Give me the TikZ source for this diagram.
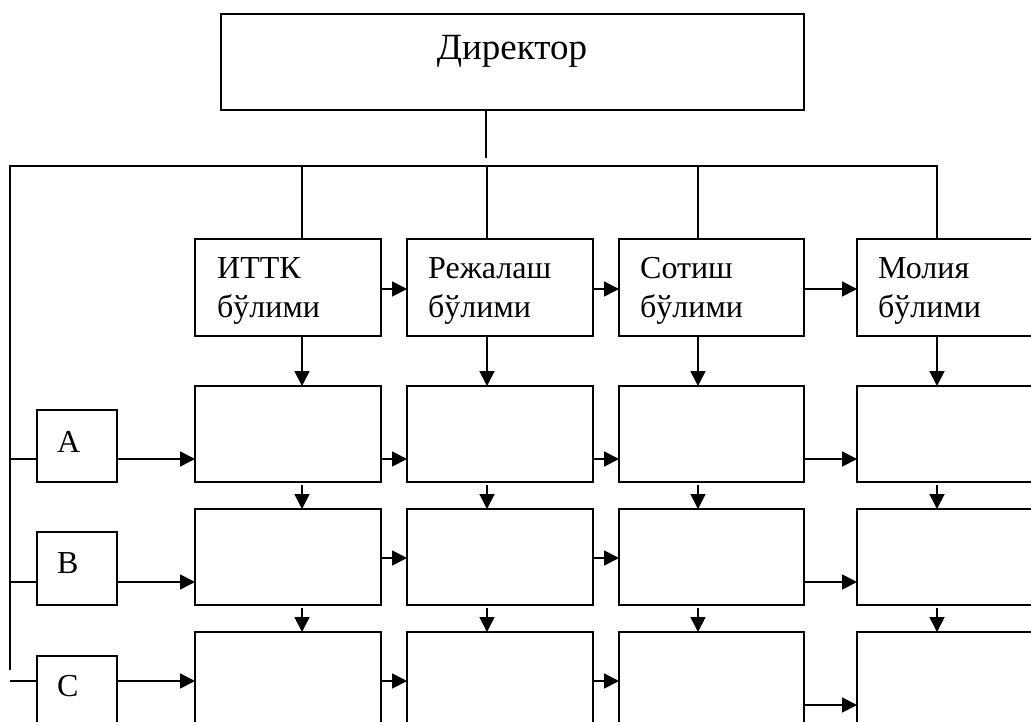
\documentclass[tikz,border=0pt]{standalone}
\usepackage{fontspec}
\setmainfont{Liberation Serif}
\usetikzlibrary{arrows.meta}
\tikzset{
  box/.style={draw, line width=1.6pt, inner sep=0pt, outer sep=0pt, rectangle},
  dept/.style={box, minimum height=97pt},
  cell/.style={box, minimum height=96pt},
  small/.style={box, minimum width=80pt},
  lbl/.style={inner sep=0pt, font=\fontsize{32}{38}\selectfont},
  big/.style={inner sep=0pt, font=\fontsize{37}{44}\selectfont},
  conn/.style={line width=1.6pt},
  bus/.style={line width=1.4pt},
  arr/.style={line width=1.8pt, -{Triangle[length=15pt,width=15pt]}}
}
\begin{document}
\begin{tikzpicture}[x=1pt, y=-1pt]
\useasboundingbox (0,0) rectangle (1031,722);
\clip (0,0) rectangle (1031,722);
% levels
\coordinate (x1) at (302,0);
\coordinate (x2) at (487,0);
\coordinate (x3) at (698,0);
\coordinate (x4) at (937,0);
\coordinate (yd) at (0,289);
\coordinate (y1) at (0,459);
\coordinate (y2a) at (0,558);
\coordinate (y2b) at (0,582);
\coordinate (y3a) at (0,681);
\coordinate (y3b) at (0,705);
\coordinate (busL) at (10,166);
\coordinate (busR) at (937,166);
\coordinate (busB) at (10,670);
\coordinate (dirfoot) at (486,158);
% director
\node[box, minimum width=583pt, minimum height=96pt] (dir) at (512.5,62) {};
\node[big, anchor=base] (tdir) at (512,60) {Директор};
% departments
\node[dept, minimum width=186pt] (d1) at (288,287.5) {};
\node[dept, minimum width=186pt] (d2) at (500,287.5) {};
\node[dept, minimum width=185pt] (d3) at (711.5,287.5) {};
\node[dept, minimum width=186pt] (d4) at (950,287.5) {};
\node[lbl, anchor=base west] (l1a) at ([xshift=22pt,yshift=-40pt]d1.north west) {ИТТК};
\node[lbl, anchor=base west] (l1b) at ([xshift=22pt,yshift=-78pt]d1.north west) {бўлими};
\node[lbl, anchor=base west] (l2a) at ([xshift=21pt,yshift=-40pt]d2.north west) {Режалаш};
\node[lbl, anchor=base west] (l2b) at ([xshift=21pt,yshift=-78pt]d2.north west) {бўлими};
\node[lbl, anchor=base west] (l3a) at ([xshift=21pt,yshift=-40pt]d3.north west) {Сотиш};
\node[lbl, anchor=base west] (l3b) at ([xshift=21pt,yshift=-78pt]d3.north west) {бўлими};
\node[lbl, anchor=base west] (l4a) at ([xshift=21pt,yshift=-40pt]d4.north west) {Молия};
\node[lbl, anchor=base west] (l4b) at ([xshift=21pt,yshift=-78pt]d4.north west) {бўлими};
% grid cells
\foreach \r/\y in {1/434, 2/557, 3/680}{
  \node[cell, minimum width=186pt] (r\r1) at (288,\y) {};
  \node[cell, minimum width=186pt] (r\r2) at (500,\y) {};
  \node[cell, minimum width=185pt] (r\r3) at (711.5,\y) {};
  \node[cell, minimum width=186pt] (r\r4) at (950,\y) {};
}
% small boxes
\node[small, minimum height=72pt] (sa) at (77,446) {};
\node[small, minimum height=73pt] (sb) at (77,568.5) {};
\node[small, minimum height=73pt] (sc) at (77,692.5) {};
\node[lbl, anchor=base west] (ta) at ([xshift=20pt,yshift=-42pt]sa.north west) {A};
\node[lbl, anchor=base west] (tb) at ([xshift=20pt,yshift=-41pt]sb.north west) {B};
\node[lbl, anchor=base west] (tc) at ([xshift=20pt,yshift=-40pt]sc.north west) {C};
% director link and bus
\draw[conn] (dirfoot |- dir.south) -- (dirfoot);
\draw[bus] (busB) -- (busL) -- (busR) -- (busR |- d4.north);
\draw[conn] (x1 |- busL) -- (x1 |- d1.north);
\draw[conn] (x2 |- busL) -- (x2 |- d2.north);
\draw[conn] (x3 |- busL) -- (x3 |- d3.north);
% left stubs
\draw[bus] (busL |- y1) -- (sa.west |- y1);
\draw[bus] (busL |- y2b) -- (sb.west |- y2b);
\draw[bus] (busL |- y3a) -- (sc.west |- y3a);
% small -> first column
\draw[arr] (sa.east |- y1) -- (r11.west |- y1);
\draw[arr] (sb.east |- y2b) -- (r21.west |- y2b);
\draw[arr] (sc.east |- y3a) -- (r31.west |- y3a);
% department row arrows
\draw[arr] (d1.east |- yd) -- (d2.west |- yd);
\draw[arr] (d2.east |- yd) -- (d3.west |- yd);
\draw[arr] (d3.east |- yd) -- (d4.west |- yd);
% row 1
\draw[arr] (r11.east |- y1) -- (r12.west |- y1);
\draw[arr] (r12.east |- y1) -- (r13.west |- y1);
\draw[arr] (r13.east |- y1) -- (r14.west |- y1);
% row 2
\draw[arr] (r21.east |- y2a) -- (r22.west |- y2a);
\draw[arr] (r22.east |- y2a) -- (r23.west |- y2a);
\draw[arr] (r23.east |- y2b) -- (r24.west |- y2b);
% row 3
\draw[arr] (r31.east |- y3a) -- (r32.west |- y3a);
\draw[arr] (r32.east |- y3a) -- (r33.west |- y3a);
\draw[arr] (r33.east |- y3b) -- (r34.west |- y3b);
% vertical arrows
\foreach \c/\xc in {1/x1, 2/x2, 3/x3, 4/x4}{
  \draw[arr] (\xc |- d\c.south) -- (\xc |- r1\c.north);
  \draw[arr] ([yshift=-3pt]\xc |- r1\c.south) -- (\xc |- r2\c.north);
  \draw[arr] ([yshift=-3pt]\xc |- r2\c.south) -- (\xc |- r3\c.north);
}
\end{tikzpicture}
\end{document}
